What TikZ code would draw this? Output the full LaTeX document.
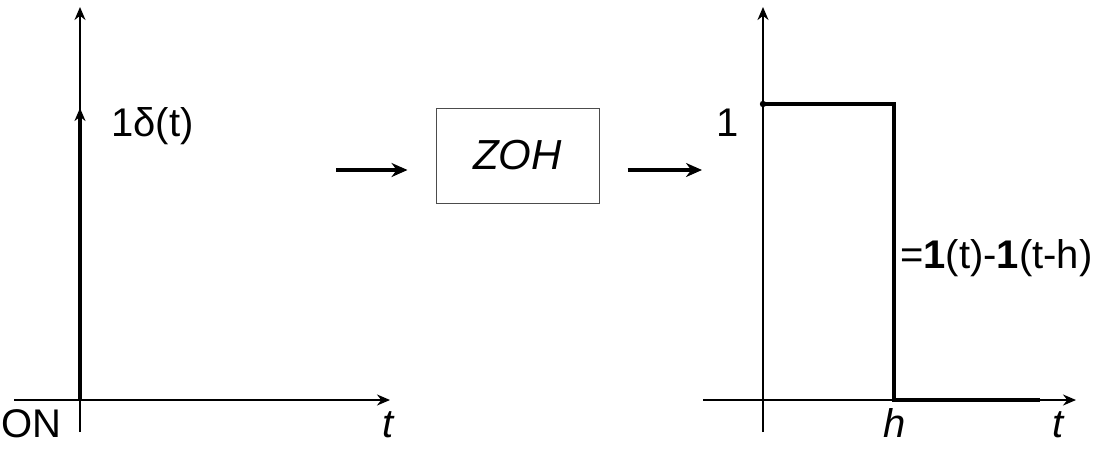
\documentclass[tikz,border=0pt]{standalone}
\usepackage{fontspec}
\setmainfont{Liberation Sans}
\usetikzlibrary{arrows.meta}

\begin{document}
\begin{tikzpicture}[x=1pt, y=-1pt, >={Stealth[length=13pt,width=11pt]},
			axis/.style={line width=2pt, ->},
			signal/.style={line width=4.5pt},
			flow/.style={line width=4pt, -{Stealth[length=16pt,width=14pt]}},
			lbl/.style={font=\fontsize{40}{44}\selectfont, inner sep=0pt},
			ilbl/.style={lbl, font=\fontsize{40}{44}\selectfont\itshape},
			block/.style={draw=black!70, line width=1pt, minimum width=163pt,
				minimum height=95pt, font=\fontsize{42}{46}\selectfont\itshape}]
			\useasboundingbox (0,0) rectangle (1115,448);
			% left plot
			\coordinate (o1) at (80,400);
			\coordinate (x1a) at (14,400);
			\coordinate (x1b) at (390,400);
			\coordinate (y1a) at (80,432);
			\coordinate (y1b) at (80,7);
			\coordinate (imp) at (80,108);
			\node[lbl, anchor=base west] (dlbl) at (111,136) {1δ(t)};
			\node[ilbl, anchor=base] (t1) at (388,437) {t};
			\node[lbl, anchor=base west] (on) at (1,437) {ON};
			
			% block
			\coordinate (in) at (336,170);
			\node[block] (zoh) at (517.5,155.5) {ZOH};
			\coordinate (out) at (702,170);
			
			% right plot
			\coordinate (o2) at (763,400);
			\coordinate (x2a) at (703,400);
			\coordinate (x2b) at (1076,400);
			\coordinate (y2a) at (763,432);
			\coordinate (y2b) at (763,7);
			\coordinate (p1) at (763,104);
			\coordinate (p2) at (894,104);
			\coordinate (p3) at (894,400);
			\coordinate (p4) at (1040,400);
			\node[lbl, anchor=base east] (one) at (739,136) {1};
			\node[lbl, anchor=base west] (step) at (900,268) {=\textbf{1}(t)-\textbf{1}(t-h)};
			\node[ilbl, anchor=base] (h) at (895,437) {h};
			\node[ilbl, anchor=base] (t2) at (1058,437) {t};
			
			\draw[axis] (x1a) -- (x1b);
			\draw[axis] (y1a) -- (y1b);
			\draw[signal, ->] (o1) -- (imp);
			\draw[flow, shorten >=28pt] (in) -- (in -| zoh.west);
			\draw[flow, shorten <=28pt] (out -| zoh.east) -- (out);
			\draw[axis] (x2a) -- (x2b);
			\draw[axis] (y2a) -- (y2b);
			\draw[signal, line join=miter] (p1) -- (p2) -- (p3) -- (p4);
			\fill (p1) circle (3.2pt);
			\end{tikzpicture}
\end{document}
